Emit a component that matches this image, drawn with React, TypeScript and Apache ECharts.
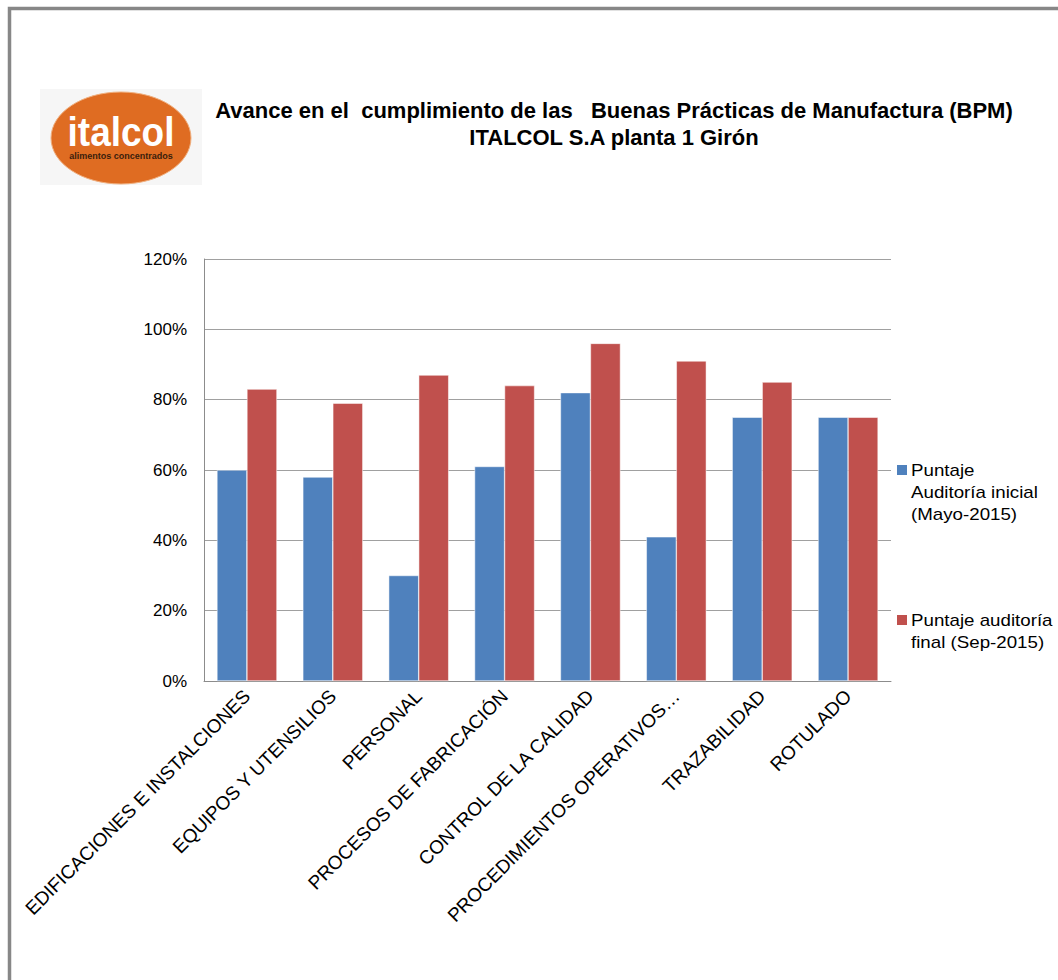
import React, { useEffect, useRef } from "react";
import * as echarts from "echarts";

const categories = [
  "EDIFICACIONES E INSTALCIONES",
  "EQUIPOS Y UTENSILIOS",
  "PERSONAL",
  "PROCESOS DE FABRICACIÓN",
  "CONTROL DE LA CALIDAD",
  "PROCEDIMIENTOS OPERATIVOS…",
  "TRAZABILIDAD",
  "ROTULADO",
];
const inicial = [0.6, 0.58, 0.3, 0.61, 0.82, 0.41, 0.75, 0.75];
const final = [0.83, 0.79, 0.87, 0.84, 0.96, 0.91, 0.85, 0.75];
const seriesNames = ["Puntaje Auditoría inicial (Mayo-2015)", "Puntaje auditoría final (Sep-2015)"];
const legendLines1 = ["Puntaje", "Auditoría inicial", "(Mayo-2015)"];
const legendLines2 = ["Puntaje auditoría", "final (Sep-2015)"];
const titleLine1 = "Avance en el  cumplimiento de las   Buenas Prácticas de Manufactura (BPM)";
const titleLine2 = "ITALCOL S.A planta 1 Girón";

const BLUE = "#4F81BD";
const RED = "#C0504D";
const FONT = "'Liberation Sans', Arial, sans-serif";

export default function App() {
  const ref = useRef<HTMLDivElement>(null);
  useEffect(() => {
    if (!ref.current) return;
    const chart = echarts.init(ref.current, null, { renderer: "svg" });
    chart.setOption({
      animation: false,
      backgroundColor: "#ffffff",
      textStyle: { fontFamily: FONT },
      grid: { left: 204, right: 167, top: 259, bottom: 299, containLabel: false },
      xAxis: {
        type: "category",
        data: categories,
        axisLine: { lineStyle: { color: "#8c8c8c", width: 1 } },
        axisTick: { show: false },
        axisLabel: {
          rotate: 45,
          interval: 0,
          color: "#000",
          fontSize: 19,
          fontFamily: FONT,
          margin: 12,
        },
      },
      yAxis: {
        type: "value",
        min: 0,
        max: 1.2,
        interval: 0.2,
        axisLine: { show: true, lineStyle: { color: "#8c8c8c", width: 1 } },
        axisTick: { show: false },
        splitLine: { lineStyle: { color: "#a0a0a0", width: 1 } },
        axisLabel: {
          color: "#000",
          fontSize: 17,
          fontFamily: FONT,
          margin: 17,
          formatter: (v: number) => Math.round(v * 100) + "%",
        },
      },
      series: [
        {
          name: seriesNames[0],
          type: "bar",
          data: inicial,
          barWidth: 30,
          barGap: "0%",
          itemStyle: { color: BLUE, borderColor: "#ffffff", borderWidth: 0.5 },
        },
        {
          name: seriesNames[1],
          type: "bar",
          data: final,
          barWidth: 30,
          barGap: "0%",
          itemStyle: { color: RED, borderColor: "#ffffff", borderWidth: 0.5 },
        },
      ],
      graphic: [
        {
          type: "rect",
          shape: { x: 9.5, y: 8.5, width: 1200, height: 1200 },
          style: { fill: "none", stroke: "#878787", lineWidth: 3.5 },
          silent: true,
        },
        {
          type: "rect",
          shape: { x: 40, y: 89, width: 162, height: 96 },
          style: { fill: "#f6f6f6" },
        },
        {
          type: "ellipse",
          shape: { cx: 121, cy: 138, rx: 70, ry: 46 },
          style: { fill: "#DF6C22", stroke: "#f0b080", lineWidth: 1 },
        },
        {
          type: "text",
          x: 121,
          y: 132,
          scaleY: 1.1,
          style: {
            text: "italcol",
            fill: "#ffffff",
            font: "bold 37px 'Liberation Sans', Arial, sans-serif",
            align: "center",
            verticalAlign: "middle",
          },
        },
        {
          type: "text",
          x: 121,
          y: 156,
          style: {
            text: "alimentos concentrados",
            fill: "#3a1e0c",
            font: "bold 9px 'Liberation Sans', Arial, sans-serif",
            align: "center",
            verticalAlign: "middle",
          },
        },
        {
          type: "text",
          x: 614,
          y: 110,
          style: {
            text: titleLine1,
            fill: "#000",
            font: "bold 22px 'Liberation Sans', Arial, sans-serif",
            align: "center",
            verticalAlign: "middle",
          },
        },
        {
          type: "text",
          x: 614,
          y: 137,
          style: {
            text: titleLine2,
            fill: "#000",
            font: "bold 22px 'Liberation Sans', Arial, sans-serif",
            align: "center",
            verticalAlign: "middle",
          },
        },
        {
          type: "rect",
          shape: { x: 897, y: 465, width: 10, height: 10 },
          style: { fill: BLUE },
        },
        {
          type: "text",
          x: 911,
          y: 459,
          scaleX: 1.17,
          style: {
            text: legendLines1.join("\n"),
            fill: "#000",
            font: "16px 'Liberation Sans', Arial, sans-serif",
            lineHeight: 22,
            align: "left",
            verticalAlign: "top",
          },
        },
        {
          type: "rect",
          shape: { x: 897, y: 615, width: 10, height: 10 },
          style: { fill: RED },
        },
        {
          type: "text",
          x: 911,
          y: 609,
          scaleX: 1.17,
          style: {
            text: legendLines2.join("\n"),
            fill: "#000",
            font: "16px 'Liberation Sans', Arial, sans-serif",
            lineHeight: 22,
            align: "left",
            verticalAlign: "top",
          },
        },
      ],
    });
    return () => chart.dispose();
  }, []);
  return (
    <div
      ref={ref}
      style={{ position: "fixed", left: 0, top: 0, width: 1058, height: 980 }}
    />
  );
}
